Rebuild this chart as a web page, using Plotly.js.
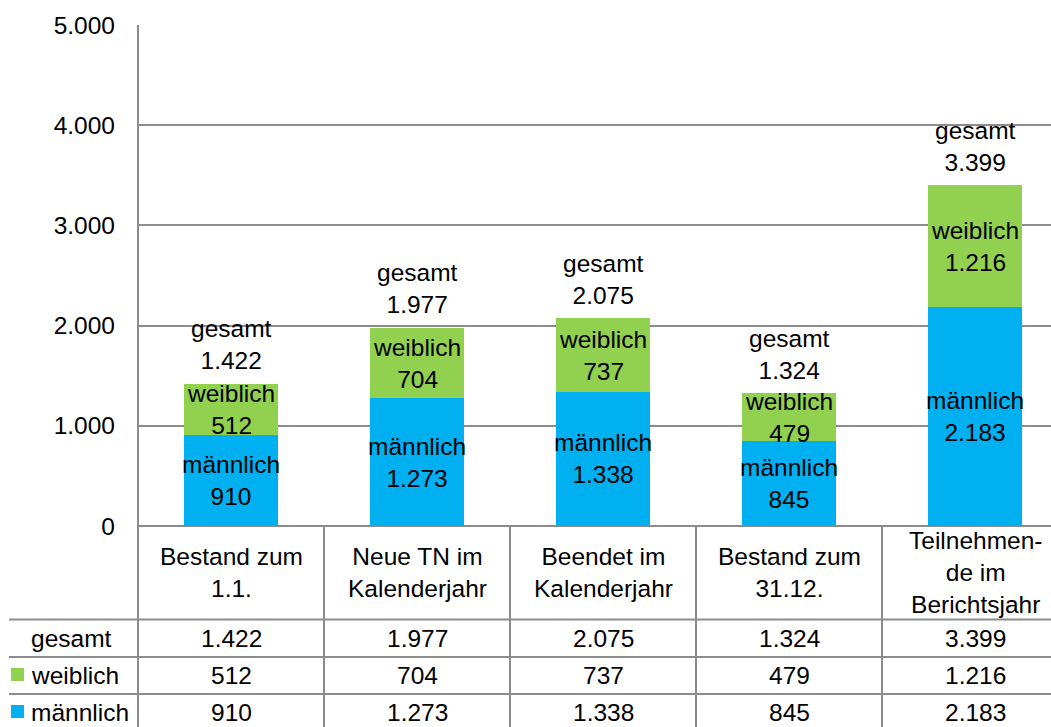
<!DOCTYPE html>
<html>
<head>
<meta charset="utf-8">
<script src="https://cdn.plot.ly/plotly-3.0.1.min.js"></script>
<style>html,body{margin:0;padding:0;background:#fff;}#chart{width:1051px;height:727px;}</style>
</head>
<body>
<div id="chart"></div>
<script>
// ---- data ----
const categories = ["Bestand zum<br>1.1.", "Neue TN im<br>Kalenderjahr", "Beendet im<br>Kalenderjahr", "Bestand zum<br>31.12.", "Teilnehmen-<br>de im<br>Berichtsjahr"];
const weiblich = [512, 704, 737, 479, 1216];
const maennlich = [910, 1273, 1338, 845, 2183];
const gesamt = [1422, 1977, 2075, 1324, 3399];
const yTicks = [0, 1000, 2000, 3000, 4000, 5000];
const rowNames = ["gesamt", "weiblich", "männlich"];

// ---- style ----
const FONT = "Liberation Sans, Arial, sans-serif";
const FS = 24.5;
const GREEN = "#92D050", BLUE = "#00B0F0", LINE = "#8c8c8c";
const fmt = n => String(n).replace(/\B(?=(\d{3})+(?!\d))/g, ".");

const PLOT_TOP = 25, PLOT_BOTTOM = 526, PLOT_LEFT = 138, W = 1051, H = 727;
const ph = PLOT_BOTTOM - PLOT_TOP, pw = W - PLOT_LEFT;
const py = p => (PLOT_BOTTOM - p) / ph;   // pixel y -> paper y
const px = p => (p - PLOT_LEFT) / pw;     // pixel x -> paper x

const traces = [
  {type: "bar", name: "männlich", x: categories, y: maennlich, marker: {color: BLUE}, hoverinfo: "skip"},
  {type: "bar", name: "weiblich", x: categories, y: weiblich, marker: {color: GREEN}, hoverinfo: "skip"}
];

const annotations = [];
const shapes = [];
const txt = (extra) => Object.assign({showarrow: false, font: {family: FONT, size: FS, color: "#000"}}, extra);

categories.forEach((c, i) => {
  annotations.push(txt({x: c, y: maennlich[i] / 2, xref: "x", yref: "y", text: "männlich<br>" + fmt(maennlich[i]), yanchor: "middle"}));
  annotations.push(txt({x: c, y: maennlich[i] + weiblich[i] / 2, xref: "x", yref: "y", text: "weiblich<br>" + fmt(weiblich[i]), yanchor: "middle"}));
  annotations.push(txt({x: c, y: gesamt[i], xref: "x", yref: "y", text: "gesamt<br>" + fmt(gesamt[i]), yanchor: "middle", yshift: 39}));
  // data table
  annotations.push(txt({x: c, y: py(572), xref: "x", yref: "paper", text: c, yanchor: "middle"}));
  const vals = [gesamt[i], weiblich[i], maennlich[i]];
  const rowsY = [638, 675.5, 712];
  vals.forEach((v, r) => annotations.push(txt({x: c, y: py(rowsY[r]), xref: "x", yref: "paper", text: fmt(v), yanchor: "middle"})));
  if (i > 0) shapes.push({type: "line", xref: "x", yref: "paper", x0: i - 0.5, x1: i - 0.5, y0: 0, y1: py(740), line: {color: LINE, width: 2}});
});

const rowsY = [638, 675.5, 712];
rowNames.forEach((n, r) => annotations.push(txt({x: px(29), y: py(rowsY[r]), xref: "paper", yref: "paper", text: n, xanchor: "left", yanchor: "middle"})));

// legend keys
shapes.push({type: "rect", xref: "paper", yref: "paper", x0: px(11), x1: px(24), y0: py(668), y1: py(681), fillcolor: GREEN, line: {width: 0}});
shapes.push({type: "rect", xref: "paper", yref: "paper", x0: px(11), x1: px(24), y0: py(705), y1: py(718), fillcolor: BLUE, line: {width: 0}});
// table horizontal lines
[619.5, 657, 694].forEach(p => shapes.push({type: "line", xref: "paper", yref: "paper", x0: px(9), x1: 1, y0: py(p), y1: py(p), line: {color: LINE, width: 2}}));
// left axis line through table
shapes.push({type: "line", xref: "paper", yref: "paper", x0: 0, x1: 0, y0: 1, y1: py(740), line: {color: LINE, width: 2}});

const layout = {
  width: W, height: H,
  margin: {l: PLOT_LEFT, r: 0, t: PLOT_TOP, b: H - PLOT_BOTTOM, pad: 0},
  paper_bgcolor: "#fff", plot_bgcolor: "#fff",
  barmode: "stack", bargap: 0.49,
  showlegend: false,
  separators: ",.",
  font: {family: FONT, size: FS, color: "#000"},
  xaxis: {type: "category", range: [-0.5, -0.5 + pw / 186], showticklabels: false, ticks: "", showgrid: false, showline: false, zeroline: false, fixedrange: true},
  yaxis: {range: [0, 5000], tickvals: yTicks, ticktext: yTicks.map(fmt), ticks: "", ticklabelstandoff: 22,
          showgrid: true, gridcolor: LINE, gridwidth: 2, zeroline: true, zerolinecolor: LINE, zerolinewidth: 2,
          showline: false, tickfont: {family: FONT, size: FS, color: "#000"}, fixedrange: true},
  annotations: annotations,
  shapes: shapes
};

Plotly.newPlot("chart", traces, layout, {displayModeBar: false, staticPlot: true});
</script>
</body>
</html>
